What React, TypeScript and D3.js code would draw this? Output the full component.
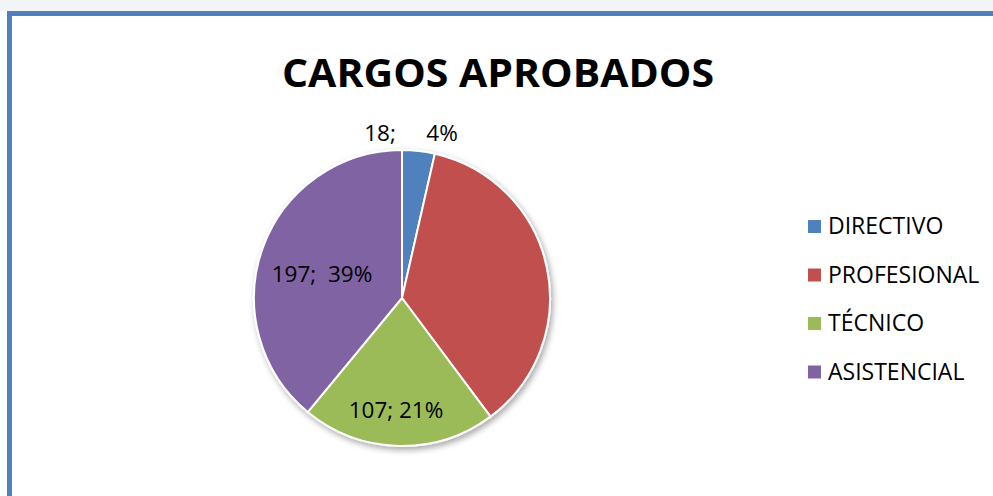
import React from "react";
import * as d3 from "d3";

const categories = ["DIRECTIVO", "PROFESIONAL", "TÉCNICO", "ASISTENCIAL"];
const values = [18, 183, 107, 197];
const labels = ["18;  \u2007 4%", "", "107; 21%", "197;  39%"];
const colors = ["#4F81BD", "#C0504D", "#9BBB59", "#8064A2"];
const title = "CARGOS APROBADOS";

export default function App() {
  const W = 993, H = 496;
  const cx = 402, cy = 298, r = 148;
  const pie = d3.pie<number>().sort(null).value((d) => d)(values);
  const arc = d3.arc<d3.PieArcDatum<number>>().innerRadius(0).outerRadius(r);
  const labelPos: [number, number][] = [
    [411, 141],
    [0, 0],
    [396, 418],
    [322, 282],
  ];
  const font = "Open Sans, Liberation Sans, sans-serif";
  return (
    <svg width={W} height={H} style={{ position: "absolute", left: 0, top: 0, background: "#fff" }}>
      <defs>
        <filter id="sh" x="-20%" y="-20%" width="140%" height="140%">
          <feGaussianBlur in="SourceAlpha" stdDeviation="3" />
          <feOffset dx="2" dy="3" result="b" />
          <feComponentTransfer><feFuncA type="linear" slope="0.35" /></feComponentTransfer>
          <feMerge><feMergeNode /><feMergeNode in="SourceGraphic" /></feMerge>
        </filter>
      </defs>
      <rect x={0} y={0} width={W} height={11} fill="#f3f4f6" />
      <rect x={9.5} y={13.5} width={W + 10} height={H + 10} fill="#fff" stroke="#4F81BD" strokeWidth={5} />
      <text x={498} y={87} textAnchor="middle" fontFamily={font} fontWeight="bold" fontSize={40} textLength={432} lengthAdjust="spacingAndGlyphs" fill="#000">{title}</text>
      <g transform={`translate(${cx},${cy})`} filter="url(#sh)">
        {pie.map((p, i) => (
          <path key={i} d={arc(p) || ""} fill={colors[i]} stroke="#fff" strokeWidth={2} />
        ))}
      </g>
      {labels.map((l, i) => l ? (
        <text key={i} x={labelPos[i][0]} y={labelPos[i][1]} textAnchor="middle" fontFamily={font} fontSize={22.5} fill="#000" style={{ whiteSpace: "pre" }}>{l}</text>
      ) : null)}
      {categories.map((c, i) => {
        const y = 234 + i * 48.5;
        return (
          <g key={c}>
            <rect x={808} y={y - 14} width={13} height={13} fill={colors[i]} />
            <text x={828} y={y} fontFamily={font} fontSize={23} fill="#000">{c}</text>
          </g>
        );
      })}
    </svg>
  );
}
